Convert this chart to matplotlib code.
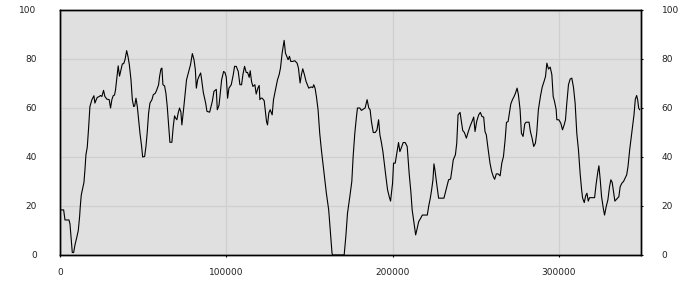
import numpy as np
import matplotlib
matplotlib.use('Agg')
import matplotlib.pyplot as plt

# x positions (thousands) and values
xs = [0, 2.2, 3.0, 5.4, 6.0, 7.0, 7.4, 8.2, 9.0, 10.2, 11.0, 11.8, 12.2, 12.8, 13.6, 14.4,
      15.0, 15.6, 16.4, 17.2, 18.0, 19.2, 20.4, 21.0, 21.8, 22.4, 23.6, 24.4, 25.2, 26.2,
      27.0, 28.2, 29.6, 30.4, 31.2, 32.0, 32.8, 33.4, 34.2, 35.0, 35.8, 36.5, 37.5, 38.3,
      39.1, 40.1, 40.9, 41.7, 42.7, 43.5, 44.3, 44.9, 45.7, 46.5, 47.3, 48.1, 49.1, 49.7,
      50.9, 51.7, 52.5, 53.3, 54.1, 55.3, 56.1, 57.3, 58.1, 59.3, 59.9, 60.7, 61.3, 61.9,
      62.9, 63.7, 64.5, 65.3, 66.1, 67.3, 68.1, 68.9, 69.5, 70.3, 71.1, 71.9, 72.7, 73.3,
      74.3, 75.1, 76.1, 76.9, 77.7, 78.5, 79.6, 80.6, 81.4, 82.0, 82.8, 83.6, 84.6, 85.2,
      86.2, 87.6, 88.4, 90.0, 91.6, 92.6, 94.0, 94.6, 95.6, 96.2, 97.2, 98.4, 99.2, 100.0,
      100.8, 101.6, 103.0, 104.2, 105.0, 106.0, 107.2, 108.2, 109.2, 110.0, 111.0, 112.0,
      112.8, 113.8, 114.4, 115.2, 116.0, 117.2, 118.0, 119.0, 119.8, 120.2, 120.8, 121.6,
      122.8, 123.6, 124.2, 124.8, 125.6, 126.4, 127.6, 128.4, 129.6, 130.8, 131.8, 132.6,
      133.6, 134.8, 135.6, 136.4, 137.2, 138.0, 138.8, 140.0, 141.2, 142.6, 143.4, 144.4,
      145.2, 146.0, 147.0, 148.0, 149.6, 151.0, 152.0, 152.6, 153.4, 154.2, 155.2, 156.2,
      157.2, 158.6, 160.2, 161.6, 162.6, 163.6, 164.0, 170.9,
      171.9, 172.9, 174.3, 175.5, 176.3, 177.3, 178.3, 178.9, 180.3, 181.3, 182.3, 183.5,
      184.7, 185.7, 186.5, 187.3, 188.4, 189.6, 190.6, 191.6, 192.4, 193.2, 194.2, 195.0,
      196.0, 197.0, 198.0, 198.8, 200.0, 200.6, 201.6, 202.4, 203.6, 204.4, 205.2, 206.4,
      207.6, 208.8, 210.0, 211.0, 211.8, 212.9, 213.9, 214.7, 215.7, 216.9, 217.9, 220.9,
      221.7, 222.7, 223.5, 224.3, 224.9, 225.5, 226.5, 227.7, 230.9, 231.9, 232.9, 233.7,
      234.9, 235.7, 236.5, 237.8, 238.6, 239.4, 240.6, 241.4, 242.2, 243.2, 244.4, 245.4,
      246.6, 247.8, 248.8, 249.6, 250.6, 251.8, 252.8, 253.8, 254.8, 255.6, 256.4, 257.4,
      258.6, 259.6, 260.6, 261.4, 262.4, 263.5, 264.7, 265.7, 266.7, 267.7, 268.5, 269.5,
      270.3, 271.1, 272.1, 273.1, 273.9, 274.9, 275.7, 276.7, 277.5, 278.5, 279.5, 280.3,
      282.1, 282.9, 283.9, 284.9, 285.9, 286.7, 287.7, 289.0, 290.0, 291.0, 292.0, 292.8,
      293.8, 294.8, 295.8, 296.6, 297.4, 298.4, 298.8, 300.0, 301.2, 302.2, 303.2, 304.0,
      304.8, 305.8, 306.8, 307.8, 308.8, 309.8, 310.8, 311.8, 312.8, 313.7, 314.3, 315.3,
      316.1, 316.9, 317.7, 318.5, 321.5, 322.5, 323.5, 324.1, 324.9, 325.7, 326.9, 327.5,
      328.5, 329.5, 330.5, 331.3, 332.1, 332.9, 333.7, 335.3, 336.1, 336.9, 337.9, 338.9,
      339.8, 340.8, 341.6, 342.6, 343.6, 344.4, 345.2, 346.0, 346.8, 347.4, 348.0, 348.6]

vals = [18.4, 18.4, 14.3, 14.3, 12.7, 4, 1, 1, 4.1, 7.5, 10, 15.7, 19.8, 24.5, 27, 29.6,
        34.7, 40.9, 44, 51.8, 60.6, 63.4, 65, 62, 63.4, 64.3, 64.7, 65.1, 64.7, 67.2,
        64.7, 63.6, 63.4, 60, 63.4, 65, 65.3, 67.4, 72.2, 77.2, 73, 75, 78, 78.1,
        79.7, 83.4, 81, 77.7, 71.5, 63.4, 60.6, 60.8, 64, 60.6, 55.2, 49.7, 44.3, 40,
        40.2, 44.3, 50.4, 58, 62, 63.4, 65.4, 66, 67.2, 69.5, 72.9, 75.9, 76.3, 69.5,
        69, 66, 60.6, 53.5, 46, 46, 52.4, 56.8, 55.9, 55.2, 58, 60, 58.4, 53.1,
        59.3, 64.7, 71.5, 73.6, 75.6, 77.7, 82.2, 79.7, 75.6, 68.1, 71.5, 72.9, 74.3, 71.5,
        66.3, 62, 58.6, 58.3, 62.7, 66.8, 67.6, 59.3, 61, 64.7, 71.5, 74.9, 74.5, 72.6,
        64, 68.1, 69.5, 73.6, 77, 77, 74.9, 69.5, 69.5, 73.6, 77, 74.5,
        74.5, 72.5, 75.2, 70.8, 68.8, 69.5, 65.7, 68.1, 69.2, 63.4, 64, 64,
        63, 57.9, 54.5, 53.1, 58, 59.3, 57.2, 63.4, 67.4, 71.5, 73.6, 76.3,
        82.4, 87.6, 82.4, 81.1, 79.7, 81.1, 79, 79, 79.3, 78.3, 76.3, 70.2,
        73.6, 76, 73.6, 70.8, 68.1, 68.6, 68.3, 69.5, 68.1, 64.7, 59.3, 49.7,
        42.9, 34.7, 25.2, 18.4, 9.5, 0.7, 0, 0,
        7.5, 17, 23.8, 30, 40.2, 49.7, 56.5, 60, 60, 59, 59.5, 60,
        63.4, 60, 59.3, 54.5, 50, 50, 51, 55.2, 49, 46.3, 42.2, 37.5,
        32, 26.6, 23.8, 22, 29.3, 37.5, 37.5, 40.9, 45.9, 42.2, 43.6, 45.9,
        45.9, 44.3, 33.2, 25.9, 18.4, 12.9, 8.2, 10.5, 13.6, 15, 16.3, 16.3,
        19.8, 23.2, 26.6, 30.7, 37.2, 34.7, 29.3, 23.2, 23.2, 25.9, 28.6, 30.7,
        31, 34.7, 38.8, 40.9, 45.6, 57.2, 58.2, 54.5, 50.8, 50, 47.7, 50,
        52.5, 54.5, 56.3, 50.4, 54.5, 57.2, 58.2, 56.5, 56.3, 50.4, 49, 43.6,
        37.5, 34.1, 32, 30.9, 33.1, 33.1, 32.3, 37.5, 40.2, 47, 54.1, 54.5,
        58, 61.6, 63.4, 64.7, 66, 68.1, 65.4, 59.3, 49.7, 48.4, 53.5, 54.2,
        54.2, 50.4, 47.7, 44.3, 45.6, 49.7, 59.3, 65, 68.5, 70.6, 72.9, 78.3,
        75.9, 76.7, 73.6, 64.7, 62.7, 59.3, 55.2, 55.2, 53.8, 51.1, 53.1, 55.2,
        62, 69.5, 71.8, 72.2, 68.5, 62, 49.7, 42.9, 33.4, 26.6, 23.2, 21.4,
        24.1, 25.2, 22, 23.4, 23.4, 29.3, 34.1, 36.4, 30.7, 23.8, 18.4, 16.3,
        19.8, 22.5, 27.9, 30.7, 29.6, 25.9, 22, 23.2, 23.8, 27.9, 29.3, 30,
        31.3, 32.7, 36.1, 42.9, 48.4, 53.1, 57.2, 63.6, 65.1, 63.4, 60, 59.3]

xticks = [0, 100000, 200000, 300000]
yticks = [0, 20, 40, 60, 80, 100]

x = np.array(xs) * 1000

fig = plt.figure(figsize=(7, 3), dpi=100)
ax = fig.add_axes([0.0857, 0.15, 0.8295, 0.8167])
ax.set_facecolor('#e0e0e0')
ax.plot(x, vals, color='black', lw=0.8)

ax.set_xlim(0, 349200)
ax.set_ylim(0, 100)
ax.set_xticks(xticks)
ax.set_xticklabels([str(t) for t in xticks])
ax.set_yticks(yticks)
ax.grid(True, color='#cfcfcf', lw=0.9)
ax.set_axisbelow(True)

for s in ax.spines.values():
    s.set_color('black')
    s.set_linewidth(1.0)

ax.tick_params(axis='x', direction='out', length=1.5, width=0.8, pad=8,
               labelsize=6.5, labelcolor='#222222')
ax.tick_params(axis='y', left=False, length=0, pad=16.8, labelsize=6.5,
               labelcolor='#222222')

# right axis: same scale, short ticks
ax2 = ax.twinx()
ax2.set_ylim(0, 100)
ax2.set_yticks(yticks)
ax2.tick_params(axis='y', direction='out', length=1.5, width=0.8, pad=13.7,
                labelsize=6.5, labelcolor='#222222')
for s in ax2.spines.values():
    s.set_color('black')
    s.set_linewidth(1.0)

fig.savefig('out.png', dpi=100, facecolor='white')
